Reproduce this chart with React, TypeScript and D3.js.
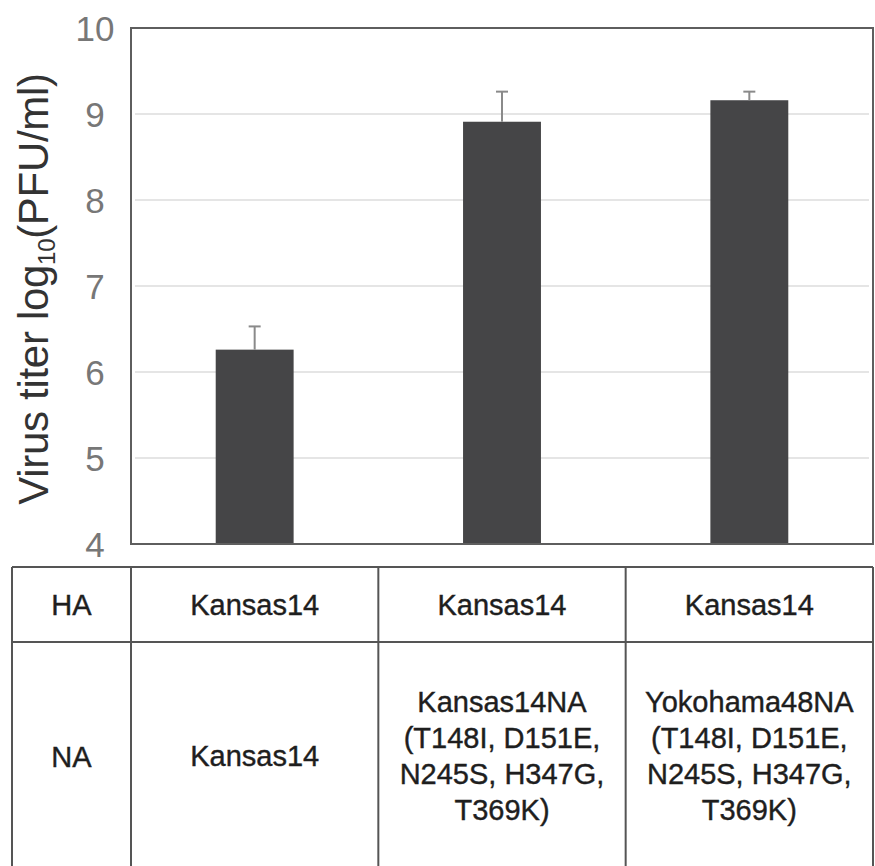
import React from "react";
import * as d3 from "d3";

// chart values
const groups = ["K14/K14", "K14/K14NA-mut", "K14/Y48NA-mut"];
const titers = [6.26, 8.91, 9.16];
const errors = [0.27, 0.35, 0.1];
const yTicks = [4, 5, 6, 7, 8, 9, 10];
const haLabels = ["Kansas14", "Kansas14", "Kansas14"];
const naLabels = [
  ["Kansas14"],
  ["Kansas14NA", "(T148I, D151E,", "N245S, H347G,", "T369K)"],
  ["Yokohama48NA", "(T148I, D151E,", "N245S, H347G,", "T369K)"],
];
const rowNames = ["HA", "NA"];

const width = 875;
const height = 866;
const margin = { top: 28, right: 2, bottom: 322, left: 131 };
const font = "'Liberation Sans', Arial, sans-serif";

export default function App() {
  const x = d3
    .scaleBand<string>()
    .domain(groups)
    .range([margin.left, width - margin.right])
    .paddingInner(0.685)
    .paddingOuter(0.3425);

  const y = d3
    .scaleLinear()
    .domain([4, 10])
    .range([height - margin.bottom, margin.top]);

  const [x0, x1] = x.range();
  const step = x.step();
  const colEdges = d3.range(groups.length + 1).map((i) => x0 + i * step);

  // table geometry
  const tLeft = 12;
  const tTop = 567;
  const tMid = 642;
  const tBottom = 866;
  const lineH = 36;

  return (
    <div style={{ position: "fixed", left: 0, top: 0 }}>
      <svg width={width} height={height} style={{ display: "block", background: "#fff" }}>
        {/* grid */}
        <g>
          {yTicks.slice(1, -1).map((t) => (
            <line key={t} x1={x0 + 4} x2={x1 - 4} y1={y(t)} y2={y(t)} stroke="#dcdcdc" strokeWidth={1.5} />
          ))}
        </g>

        {/* bars */}
        <g>
          {groups.map((g, i) => (
            <rect
              key={g}
              x={x(g)}
              y={y(titers[i])}
              width={x.bandwidth()}
              height={y(4) - y(titers[i])}
              fill="#454547"
            />
          ))}
        </g>

        {/* error bars, upper side only */}
        <g stroke="#8a8a8a" strokeWidth={2}>
          {groups.map((g, i) => {
            const cx = (x(g) as number) + x.bandwidth() / 2;
            const top = y(titers[i] + errors[i]);
            return (
              <g key={g}>
                <line x1={cx} x2={cx} y1={y(titers[i])} y2={top} />
                <line x1={cx - 6} x2={cx + 6} y1={top} y2={top} />
              </g>
            );
          })}
        </g>

        {/* frame */}
        <rect
          x={x0}
          y={y(10)}
          width={x1 - x0}
          height={y(4) - y(10)}
          fill="none"
          stroke="#5e5e5e"
          strokeWidth={2}
        />

        {/* y tick labels */}
        <g fontFamily={font} fontSize={35} fill="#777" textAnchor="middle">
          {yTicks.map((t) => (
            <text key={t} x={95} y={y(t)} dy="0.36em">
              {t}
            </text>
          ))}
        </g>

        {/* y title */}
        <text
          transform={`translate(48, 289) rotate(-90)`}
          fontFamily={font}
          fontSize={42}
          fill="#333"
          textAnchor="middle"
          letterSpacing={-0.3}
        >
          Virus titer log
          <tspan fontSize={24} dy={7}>
            10
          </tspan>
          <tspan dy={-7}>(PFU/ml)</tspan>
        </text>

        {/* table */}
        <g stroke="#555" strokeWidth={2} fill="none">
          <line x1={tLeft} x2={x1} y1={tTop} y2={tTop} />
          <line x1={tLeft} x2={x1} y1={tMid} y2={tMid} />
          <line x1={tLeft} x2={tLeft} y1={tTop} y2={tBottom} />
          {colEdges.map((cx, i) => (
            <line key={i} x1={cx} x2={cx} y1={tTop} y2={tBottom} />
          ))}
        </g>

        <g fontFamily={font} fontSize={29} fill="#1e1e1e" stroke="#1e1e1e" strokeWidth={0.4} textAnchor="middle">
          <text x={(tLeft + x0) / 2} y={(tTop + tMid) / 2} dy="0.36em">
            {rowNames[0]}
          </text>
          <text x={(tLeft + x0) / 2} y={757} dy="0.36em">
            {rowNames[1]}
          </text>
          {groups.map((g, i) => {
            const cx = (x(g) as number) + x.bandwidth() / 2;
            const lines = naLabels[i];
            const startY = 756 - ((lines.length - 1) * lineH) / 2;
            return (
              <g key={g}>
                <text x={cx} y={(tTop + tMid) / 2} dy="0.36em">
                  {haLabels[i]}
                </text>
                {lines.map((l, j) => (
                  <text key={j} x={cx} y={startY + j * lineH} dy="0.36em">
                    {l}
                  </text>
                ))}
              </g>
            );
          })}
        </g>
      </svg>
    </div>
  );
}
